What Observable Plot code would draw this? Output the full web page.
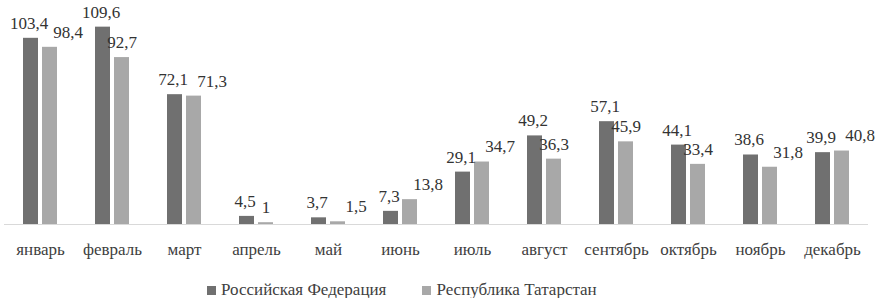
<!DOCTYPE html>
<html><head><meta charset="utf-8">
<script src="https://cdn.jsdelivr.net/npm/d3@7"></script>
<script src="https://cdn.jsdelivr.net/npm/@observablehq/plot@0.6"></script>
<style>
body{margin:0;background:#fff;}
#legend{font-size:17px;color:#404040;position:absolute;left:207px;top:280px;}
#legend i{display:inline-block;width:9px;height:9px;margin-right:5px;}
#legend span{margin-right:36px;}
</style></head>
<body>
<div id="chart"></div>
<div id="legend" style="font-family:'Liberation Serif'"></div>
<script>
const months = ["январь","февраль","март","апрель","май","июнь","июль","август","сентябрь","октябрь","ноябрь","декабрь"];
const seriesNames = ["Российская Федерация","Республика Татарстан"];
const rf = [103.4,109.6,72.1,4.5,3.7,7.3,29.1,49.2,57.1,44.1,38.6,39.9];
const rt = [98.4,92.7,71.3,1,1.5,13.8,34.7,36.3,45.9,33.4,31.8,40.8];
const colors = ["#707070","#a8a8a8"];

const data = [];
months.forEach((m,i)=>{
  data.push({month:m, series:seriesNames[0], value:rf[i], other:rt[i], idx:0});
  data.push({month:m, series:seriesNames[1], value:rt[i], other:rf[i], idx:1});
});
const fmt = v => String(v).replace(".", ",");
const isNear = d => Math.abs(d.value - d.other) < 9 && d.value >= 1.5;
const dark = data.filter(d => d.idx === 0);
const lightNear = data.filter(d => d.idx === 1 && isNear(d));
const lightFar = data.filter(d => d.idx === 1 && !isNear(d));
const textOpts = {fx: "month", x: "series", y: "value", text: d => fmt(d.value), fill: "#333"};

const chart = Plot.plot({
  width: 878, height: 270,
  marginTop: 0, marginBottom: 46, marginLeft: 0, marginRight: 7,
  style: {fontSize: "17px", color: "#404040"},
  fx: {domain: months, padding: 0, axis: "bottom", tickSize: 0, tickPadding: 18, label: null},
  x: {domain: seriesNames, paddingInner: 0.2, paddingOuter: 0.915, axis: null},
  y: {domain: [0, 124.4], axis: null},
  color: {domain: seriesNames, range: colors},
  marks: [
    Plot.barY(data, {fx: "month", x: "series", y: "value", fill: "series"}),
    Plot.ruleY([0], {stroke: "#d9d9d9", strokeWidth: 1.2}),
    Plot.text(dark, {...textOpts, dy: -15, dx: -2}),
    Plot.text(lightFar, {...textOpts, dy: -15}),
    Plot.text(lightNear, {...textOpts, dy: -15, dx: 18})
  ]
});
chart.style.fontFamily = "'Liberation Serif'";
chart.querySelectorAll("text, g").forEach(el => {
  el.removeAttribute("font-family");
  el.style.fontFamily = "'Liberation Serif'";
});
document.getElementById("chart").appendChild(chart);

const lg = document.getElementById("legend");
seriesNames.forEach((s,i)=>{
  const it = document.createElement("span");
  it.style.fontFamily = "'Liberation Serif'";
  const sw = document.createElement("i");
  sw.style.background = colors[i];
  it.appendChild(sw);
  it.appendChild(document.createTextNode(s));
  lg.appendChild(it);
});
</script>
</body></html>
